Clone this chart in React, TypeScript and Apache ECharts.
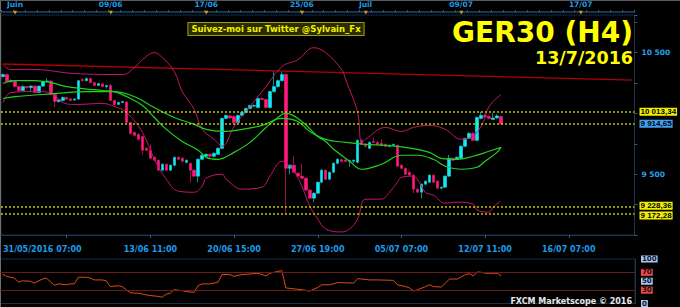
import React, { useEffect, useRef } from 'react';
import * as echarts from 'echarts';

// ---- candle data (H4, index 0 = 31/05/2016 07:00) ----
const opens = [
  10303, 10320, 10262, 10265, 10221, 10189, 10221, 10213, 10225, 10172,
  10225, 10262, 10265, 10156, 10098, 10107, 10131, 10120, 10110, 10118,
  10279, 10270, 10287, 10254, 10230, 10244, 10221, 10230, 10107, 10074,
  10090, 10095, 9926, 9844, 9828, 9811, 9713, 9697, 9639, 9615,
  9533, 9582, 9533, 9574, 9639, 9631, 9598, 9590, 9533, 9484,
  9623, 9648, 9664, 9648, 9664, 9713, 9959, 9980, 9975, 9926,
  9984, 10008, 10041, 10060, 10049, 10123, 10115, 10049, 10180, 10221,
  10270, 10320, 9549, 9574, 9508, 9484, 9467, 9369, 9303, 9344,
  9434, 9533, 9459, 9516, 9590, 9620, 9618, 9605, 9607, 9598,
  9779, 9746, 9713, 9770, 9762, 9754, 9746, 9730, 9738, 9738,
  9574, 9549, 9516, 9492, 9377, 9352, 9418, 9434, 9492, 9443,
  9385, 9393, 9484, 9631, 9623, 9631, 9730, 9795, 9836, 9779,
  9959, 9984, 9975, 9951, 9963, 9975,
];
const closes = [
  10320, 10262, 10270, 10221, 10189, 10221, 10213, 10225, 10172, 10225,
  10262, 10268, 10156, 10098, 10112, 10131, 10118, 10107, 10118, 10270,
  10270, 10287, 10254, 10230, 10246, 10221, 10230, 10107, 10074, 10090,
  10098, 9926, 9836, 9820, 9787, 9697, 9697, 9631, 9615, 9533,
  9582, 9533, 9574, 9639, 9623, 9607, 9615, 9533, 9484, 9623,
  9656, 9664, 9648, 9672, 9713, 9959, 9984, 9963, 9926, 9984,
  10008, 10041, 10066, 10066, 10123, 10115, 10049, 10180, 10221, 10270,
  10320, 9549, 9574, 9516, 9484, 9467, 9369, 9303, 9344, 9434,
  9533, 9459, 9516, 9590, 9623, 9605, 9605, 9612, 9615, 9779,
  9746, 9730, 9762, 9762, 9746, 9738, 9730, 9738, 9746, 9566,
  9549, 9500, 9492, 9377, 9352, 9418, 9443, 9492, 9434, 9385,
  9393, 9484, 9631, 9615, 9639, 9730, 9795, 9836, 9779, 9967,
  9984, 9970, 9959, 9963, 9980, 9914.65,
];
const lows = [
  10295, 10255, 10255, 10215, 10175, 10185, 10205, 10175, 10165, 10168,
  10218, 10255, 10150, 10050, 10090, 10100, 10110, 10100, 10105, 10112,
  10262, 10265, 10248, 10225, 10225, 10215, 10205, 10100, 10066, 10068,
  10085, 9918, 9828, 9811, 9780, 9660, 9690, 9625, 9607, 9525,
  9525, 9525, 9525, 9566, 9615, 9598, 9590, 9434, 9476, 9434,
  9615, 9640, 9640, 9640, 9656, 9705, 9951, 9955, 9918, 9918,
  9975, 10000, 10033, 10050, 10041, 10107, 10041, 10041, 10172, 10213,
  10262, 9172.28, 9500, 9508, 9476, 9460, 9360, 9295, 9270, 9336,
  9426, 9450, 9450, 9508, 9582, 9598, 9598, 9560, 9590, 9590,
  9738, 9720, 9705, 9755, 9740, 9730, 9722, 9722, 9730, 9558,
  9541, 9492, 9484, 9345, 9344, 9303, 9410, 9426, 9426, 9377,
  9377, 9385, 9476, 9607, 9615, 9623, 9722, 9787, 9770, 9770,
  9951, 9963, 9951, 9945, 9955, 9910,
];
const highs = [
  10330, 10330, 10280, 10270, 10225, 10230, 10228, 10232, 10230, 10230,
  10268, 10290, 10275, 10160, 10118, 10140, 10138, 10125, 10125, 10275,
  10290, 10295, 10292, 10260, 10250, 10250, 10235, 10240, 10112, 10095,
  10104, 10100, 9930, 9850, 9835, 9815, 9720, 9745, 9645, 9620,
  9590, 9590, 9580, 9645, 9648, 9640, 9622, 9595, 9540, 9630,
  9662, 9670, 9670, 9680, 9720, 9965, 9992, 9990, 9984, 9990,
  10015, 10048, 10072, 10074, 10140, 10130, 10120, 10188, 10350, 10280,
  10345, 10330, 9580, 9648, 9515, 9582, 9475, 9375, 9350, 9440,
  9545, 9540, 9522, 9598, 9630, 9628, 9625, 9620, 9622, 9785,
  9790, 9755, 9770, 9800, 9770, 9790, 9752, 9745, 9752, 9745,
  9580, 9555, 9522, 9498, 9383, 9425, 9450, 9500, 9500, 9450,
  9400, 9492, 9660, 9640, 9645, 9740, 9800, 9845, 9845, 9975,
  10013.34, 10000, 9985, 10005, 9995, 9985,
];

// ---- indicator lines: [candle index, value] ----
const bollUpper: [number, number][] = [
  [0, 10402], [2, 10361], [8, 10361], [18, 10328], [30, 10320], [33, 10377], [35, 10443],
  [38, 10500], [40, 10459], [43, 10344], [45, 10180], [48, 10033], [50, 9869], [53, 9787],
  [55, 9730], [58, 9893], [62, 10057], [66, 10221], [70, 10385], [74, 10443], [78, 10541],
  [81, 10500], [85, 10361], [86, 10279], [89, 10008], [90, 9762], [91, 9787], [96, 9885],
  [100, 9852], [103, 9885], [107, 9902], [111, 9869], [115, 9787], [117, 9795], [120, 9893],
  [122, 10057], [125, 10156],
];
const bollLower: [number, number][] = [
  [0, 10090], [2, 10172], [8, 10180], [12, 10172], [15, 10090], [18, 10074], [25, 10082],
  [28, 10057], [31, 10008], [35, 9844], [38, 9623], [41, 9459], [44, 9361], [48, 9352],
  [50, 9402], [51, 9467], [55, 9500], [56, 9459], [60, 9377], [65, 9393], [67, 9484],
  [70, 9607], [73, 9525], [75, 9402], [77, 9238], [79, 9131], [81, 9050], [85, 9025],
  [87, 9050], [89, 9131], [91, 9295], [95, 9295], [97, 9352], [99, 9434], [100, 9475],
  [103, 9484], [104, 9459], [106, 9352], [108, 9328], [111, 9262], [114, 9270], [118, 9254],
  [119, 9205], [122, 9188], [123, 9230], [125, 9279],
];
const maFast: [number, number][] = [
  [0, 10246], [3, 10270], [8, 10270], [12, 10254], [16, 10221], [20, 10205], [25, 10189],
  [28, 10180], [31, 10139], [35, 10066], [38, 9967], [41, 9869], [45, 9770], [49, 9697],
  [51, 9639], [54, 9623], [58, 9680], [62, 9762], [66, 9885], [70, 9992], [71, 10000],
  [75, 9934], [79, 9811], [81, 9770], [83, 9705], [87, 9607], [90, 9541], [95, 9582],
  [100, 9656], [104, 9656], [108, 9623], [111, 9566], [115, 9541], [119, 9557], [121, 9607],
  [124, 9680], [125, 9721],
];
const maSlow: [number, number][] = [
  [0, 10123], [3, 10139], [10, 10156], [16, 10172], [21, 10180], [27, 10180], [30, 10172],
  [34, 10123], [37, 10066], [43, 9967], [48, 9910], [51, 9869], [55, 9852], [60, 9869],
  [65, 9902], [70, 9959], [74, 9934], [77, 9852], [81, 9787], [86, 9762], [91, 9746],
  [96, 9738], [101, 9721], [107, 9680], [110, 9631], [114, 9623], [118, 9648], [122, 9689],
  [125, 9721],
];
const trendLine: [number, number][] = [[0, 10407], [158, 10275]];
const rsiPoints: [number, number][] = [
  [0, 66], [1, 61], [3, 57], [4, 48], [5, 51], [7, 50], [8, 46], [10, 55], [11, 57], [13, 41],
  [14, 44], [16, 42], [17, 44], [18, 44], [19, 59], [21, 59], [22, 57], [23, 53], [25, 53],
  [26, 51], [27, 38], [29, 40], [30, 38], [31, 31], [32, 24], [34, 23], [35, 21], [37, 18],
  [39, 16], [40, 14], [41, 21], [42, 23], [43, 31], [45, 29], [46, 27], [48, 25], [49, 40],
  [50, 44], [52, 44], [54, 48], [55, 65], [57, 65], [58, 61], [60, 65], [63, 67], [64, 68],
  [66, 62], [67, 68], [70, 74], [71, 35], [73, 33], [75, 31], [77, 28], [79, 36], [80, 42],
  [82, 42], [84, 47], [88, 46], [89, 56], [92, 53], [94, 53], [98, 52], [99, 42], [101, 38],
  [102, 35], [103, 28], [104, 31], [106, 38], [107, 42], [108, 38], [110, 37], [111, 46],
  [112, 55], [114, 55], [116, 65], [117, 67], [118, 62], [119, 71], [120, 70], [121, 68],
  [124, 68], [125, 62],
];

// ---- axes / levels ----
const slotCount = 159;
const bottomLabelIdx = [0, 37, 58, 79, 100, 121, 142];
const bottomLabelText = ['31/05/2016 07:00', '13/06 11:00', '20/06 15:00', '27/06 19:00', '05/07 07:00', '12/07 11:00', '16/07 07:00'];
const bottomTickIdx = [16, 37, 58, 79, 100, 121, 142];
const topLabelIdx = [3, 27, 51, 75, 91, 115, 145];
const topLabelText = ['Juin', '09/06', '17/06', '25/06', 'Juil', '09/07', '17/07'];
const priceTicks = [9500, 10500];
const levelValues = [9172.28, 9228.36, 9914.65, 10013.34];
const levelLabels = ['9 172,28', '9 228,36', '9 914,65', '10 013,34'];
const levelShift = [1.5, -1.5, 0, 0];
const rsiLevels = [30, 70];
const rsiRedLabels = [30, 70];
const rsiBlueLabels = [0, 50, 100];

const UP = '#12e8f6';
const DOWN = '#ff1a7c';
const BLUE_TXT = '#1e9be8';
const FONT = 'DejaVu Sans';

export default function App() {
  const ref = useRef<HTMLDivElement>(null);

  useEffect(() => {
    document.body.style.margin = '0';
    document.body.style.background = '#000';
    if (!ref.current) return;
    const chart = echarts.init(ref.current, undefined, { renderer: 'svg' });
    const cats = Array.from({ length: slotCount }, (_, i) => String(i));
    const fullCandles = opens.map((o, i) => [o, closes[i], lows[i], highs[i]]);
    const bodies = opens.map((o, i) => [o, closes[i], Math.min(o, closes[i]), Math.max(o, closes[i])]);

    const lineSeries = (data: [number, number][], color: string, width: number, smooth: number | boolean) => ({
      type: 'line',
      xAxisIndex: 0,
      yAxisIndex: 0,
      data,
      showSymbol: false,
      symbol: 'none',
      smooth,
      silent: true,
      lineStyle: { color, width },
    });

    chart.setOption({
      animation: false,
      backgroundColor: '#000000',
      grid: [
        { left: 0.5, top: 15, width: 634, height: 220, show: true, borderColor: '#15304a', borderWidth: 1, containLabel: false },
        { left: 0.5, top: 259, width: 634.5, height: 45, show: true, borderColor: '#15304a', borderWidth: 1, containLabel: false },
      ],
      xAxis: [
        {
          type: 'category', gridIndex: 0, data: cats, position: 'bottom', boundaryGap: true,
          axisLine: { show: true, lineStyle: { color: '#1a3650' } },
          axisTick: { show: true, alignWithLabel: true, length: 3, lineStyle: { color: '#3a5a7a' },
            interval: (idx: number) => bottomTickIdx.includes(idx) },
          axisLabel: {
            show: true, margin: 10, color: BLUE_TXT, fontFamily: FONT, fontWeight: 'bold', fontSize: 8,
            interval: (idx: number) => bottomLabelIdx.includes(idx),
            formatter: (_v: string, idx: number) => {
              const k = bottomLabelIdx.indexOf(idx);
              return k >= 0 ? bottomLabelText[k] : '';
            },
            alignMinLabel: 'left',
          },
          splitLine: { show: false },
        },
        {
          type: 'category', gridIndex: 0, data: cats, position: 'top', boundaryGap: true, offset: 3,
          axisLine: { show: true, lineStyle: { color: '#1a3650', width: 2 } },
          axisTick: { show: true, length: 2, interval: 2, lineStyle: { color: '#3e6080' } },
          axisLabel: {
            show: true, margin: -3,
            interval: (idx: number) => topLabelIdx.includes(idx),
            formatter: (_v: string, idx: number) => {
              const k = topLabelIdx.indexOf(idx);
              return k >= 0 ? `{t|${topLabelText[k]}}\n{m|▼}` : '';
            },
            rich: {
              t: { color: BLUE_TXT, fontFamily: FONT, fontWeight: 'bold', fontSize: 7.5, lineHeight: 9 },
              m: { color: '#d0a020', fontFamily: FONT, fontSize: 5, lineHeight: 6 },
            },
          },
          splitLine: { show: false },
        },
        {
          type: 'category', gridIndex: 1, data: cats, boundaryGap: true, show: false,
        },
      ],
      yAxis: [
        {
          type: 'value', gridIndex: 0, position: 'right', min: 9000, max: 10810, interval: 250,
          splitLine: { show: false },
          axisLine: { show: true, lineStyle: { color: '#1a3650' } },
          axisTick: { show: true, length: 3, lineStyle: { color: '#3a5a7a' } },
          axisLabel: {
            margin: 7, color: '#2aa0f0', fontFamily: FONT, fontWeight: 'bold', fontSize: 7.5,
            formatter: (v: number) => (priceTicks.includes(v) ? String(v).replace(/\B(?=(\d{3})+(?!\d))/g, ' ') : ''),
          },
        },
        {
          type: 'value', gridIndex: 1, position: 'right', min: 0, max: 100, interval: 10,
          splitLine: { show: false },
          axisLine: { show: true, lineStyle: { color: '#1a3650' } },
          axisTick: { show: false },
          axisLabel: {
            margin: 6,
            formatter: (v: number) => {
              if (rsiRedLabels.includes(v)) return `{r|${v}}`;
              if (rsiBlueLabels.includes(v)) return `{b|${v}}`;
              return '';
            },
            rich: {
              r: { backgroundColor: '#f04848', color: '#1a0a10', fontFamily: FONT, fontWeight: 'bold', fontSize: 7, padding: [0, 1, 0, 1], lineHeight: 8 },
              b: { backgroundColor: '#a8c6ee', color: '#0a1630', fontFamily: FONT, fontWeight: 'bold', fontSize: 7, padding: [0, 1, 0, 1], lineHeight: 8 },
            },
          },
        },
      ],
      series: [
        lineSeries(trendLine, '#b40000', 1.3, false),
        {
          type: 'candlestick', name: 'wicks', xAxisIndex: 0, yAxisIndex: 0, data: fullCandles,
          barWidth: 3, silent: true,
          itemStyle: { color: '#0b8790', color0: '#9a0f48', borderColor: '#0b8790', borderColor0: '#9a0f48', borderWidth: 1 },
        },
        {
          type: 'candlestick', name: 'bodies', xAxisIndex: 0, yAxisIndex: 0, data: bodies,
          barWidth: 3, silent: true,
          itemStyle: { color: UP, color0: DOWN, borderColor: UP, borderColor0: DOWN, borderWidth: 0 },
          markLine: {
            silent: true,
            symbol: ['none', 'none'],
            lineStyle: { color: '#c8c800', type: [2, 2], width: 1.5 },
            label: {
              show: true, position: 'end', distance: 5, color: '#000',
              fontFamily: 'Liberation Sans', fontWeight: 'bold', fontSize: 8, lineHeight: 8, padding: [0, 1, 0, 1],
            },
            data: levelValues.map((v, k) => ({
              yAxis: v,
              label: {
                formatter: levelLabels[k],
                offset: [0, levelShift[k]],
                backgroundColor: v === closes[closes.length - 1] ? '#3fa0f2' : '#f2f000',
              },
            })),
          },
        },
        lineSeries(bollUpper, '#c4166a', 1, 0.4),
        lineSeries(bollLower, '#c4166a', 1, 0.4),
        lineSeries(maSlow, '#1ed21e', 1.2, 0.4),
        lineSeries(maFast, '#1ed21e', 1.2, 0.4),
        {
          type: 'line', xAxisIndex: 2, yAxisIndex: 1, data: rsiPoints,
          showSymbol: false, symbol: 'none', silent: true,
          lineStyle: { color: '#e04a10', width: 1 },
          markLine: {
            silent: true, symbol: ['none', 'none'], label: { show: false },
            lineStyle: { color: '#6a1a1a', type: 'solid', width: 1.2 },
            data: rsiLevels.map((v) => ({ yAxis: v })),
          },
        },
      ],
      graphic: [
        { type: 'line', shape: { x1: 0.5, y1: 0, x2: 0.5, y2: 307 }, style: { stroke: '#6e6e6e', lineWidth: 1 }, silent: true },
        { type: 'line', shape: { x1: 0, y1: 0.5, x2: 680, y2: 0.5 }, style: { stroke: '#5a5a5a', lineWidth: 1 }, silent: true },
        {
          type: 'text', x: 633, y: 32, silent: true, z: 100,
          style: { text: 'GER30 (H4)', fill: '#ffff00', font: `bold 28px "${FONT}"`, align: 'right', verticalAlign: 'middle' },
        },
        {
          type: 'text', x: 633, y: 58, silent: true, z: 100,
          style: { text: '13/7/2016', fill: '#ffff00', font: `bold 17.5px "${FONT}"`, align: 'right', verticalAlign: 'middle' },
        },
        {
          type: 'text', x: 276, y: 29, silent: true, z: 100,
          style: {
            text: 'Suivez-moi sur Twitter @Sylvain_Fx', fill: '#f2f200', font: `bold 8.5px "${FONT}"`,
            align: 'center', verticalAlign: 'middle',
            backgroundColor: '#2c2c00', borderColor: '#9c9c18', borderWidth: 1, padding: [2, 3, 1, 3],
          },
        },
        {
          type: 'text', x: 632, y: 301, silent: true, z: 100,
          style: { text: 'FXCM Marketscope © 2016', fill: '#e8e8e8', font: `bold 8px "${FONT}"`, align: 'right', verticalAlign: 'middle' },
        },
      ],
    });
    return () => chart.dispose();
  }, []);

  return <div ref={ref} style={{ width: 680, height: 307 }} />;
}
